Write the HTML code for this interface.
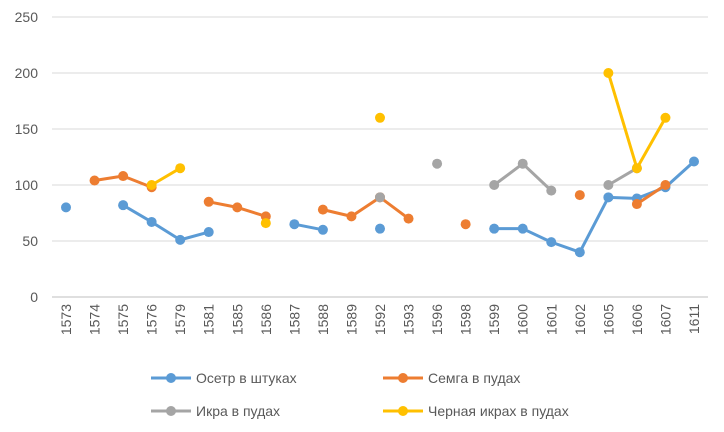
<!DOCTYPE html>
<html><head><meta charset="utf-8"><style>
body{margin:0;background:#fff;}
svg{display:block;font-family:"Liberation Sans",sans-serif;}
</style></head><body>
<svg id="chart" width="724" height="432" viewBox="0 0 724 432" xmlns="http://www.w3.org/2000/svg">
<g id="grid"></g>
<g id="yaxis"></g>
<g id="xaxis"></g>
<g id="series"></g>
<g id="legend"></g>
</svg>
<script>
const categories=["1573","1574","1575","1576","1579","1581","1585","1586","1587","1588","1589","1592","1593","1596","1598","1599","1600","1601","1602","1605","1606","1607","1611"];
const yTicks=[0,50,100,150,200,250];
const osetr=[80,null,82,67,51,58,null,null,65,60,null,61,null,null,null,61,61,49,40,89,88,98,121];
const semga=[null,104,108,98,null,85,80,72,null,78,72,89,70,null,65,null,null,null,91,null,83,100,null];
const ikra=[null,null,null,null,null,null,null,null,null,null,null,89,null,119,null,100,119,95,null,100,115,null,null];
const chernaya=[null,null,null,100,115,null,null,66,null,null,null,160,null,null,null,null,null,null,null,200,115,160,null];
const seriesNames=["Осетр в штуках","Семга в пудах","Икра в пудах","Черная икрах в пудах"];
const seriesColors=["#5b9bd5","#ed7d31","#a5a5a5","#ffc000"];
const seriesData=[osetr,semga,ikra,chernaya];
const NS="http://www.w3.org/2000/svg";
function X(i){return 66+i*(694-66)/(categories.length-1);}
function Y(v){return 297-v*280/250;}
function mk(t,a,p){const e=document.createElementNS(NS,t);for(const k in a)e.setAttribute(k,a[k]);p.appendChild(e);return e;}
const grid=document.getElementById('grid'),ya=document.getElementById('yaxis'),xa=document.getElementById('xaxis'),sg=document.getElementById('series'),lg=document.getElementById('legend');
yTicks.forEach(t=>{
 const l=mk('line',{x1:52,x2:708,y1:Y(t),y2:Y(t),stroke:t===0?'#bfbfbf':'#d9d9d9','stroke-width':1},grid);
 
 
 const tx=mk('text',{x:38,y:Y(t)+5,'text-anchor':'end','font-size':14,fill:'#595959'},ya);
 tx.textContent=t;
 
 
});
categories.forEach((c,i)=>{
 const tx=mk('text',{x:0,y:0,'text-anchor':'end','font-size':14,fill:'#595959',transform:`translate(${X(i)+5},304) rotate(-90)`},xa);
 tx.textContent=c;
 
 
});
seriesData.forEach((d,s)=>{
 const g=mk('g',{},sg);
 
 
 for(let i=0;i<d.length-1;i++){
  if(d[i]!==null&&d[i+1]!==null){
   const l=mk('line',{x1:X(i),y1:Y(d[i]),x2:X(i+1),y2:Y(d[i+1]),stroke:seriesColors[s],'stroke-width':3,'stroke-linecap':'round'},g);
   
   
  }
 }
 d.forEach((v,i)=>{
  if(v===null)return;
  const c=mk('circle',{cx:X(i),cy:Y(v),r:5,fill:seriesColors[s]},g);
  
  
 });
});
const lpos=[[151,378],[383,378],[151,411],[383,411]];
seriesNames.forEach((n,s)=>{
 const [x,y]=lpos[s];
 const g=mk('g',{},lg);
 
 
 mk('line',{x1:x,x2:x+40,y1:y,y2:y,stroke:seriesColors[s],'stroke-width':3},g);
 mk('circle',{cx:x+20,cy:y,r:5,fill:seriesColors[s]},g);
 const t=mk('text',{x:x+45,y:y+5,'font-size':14,fill:'#595959'},g);
 t.textContent=n;
});
</script>
</body></html>
